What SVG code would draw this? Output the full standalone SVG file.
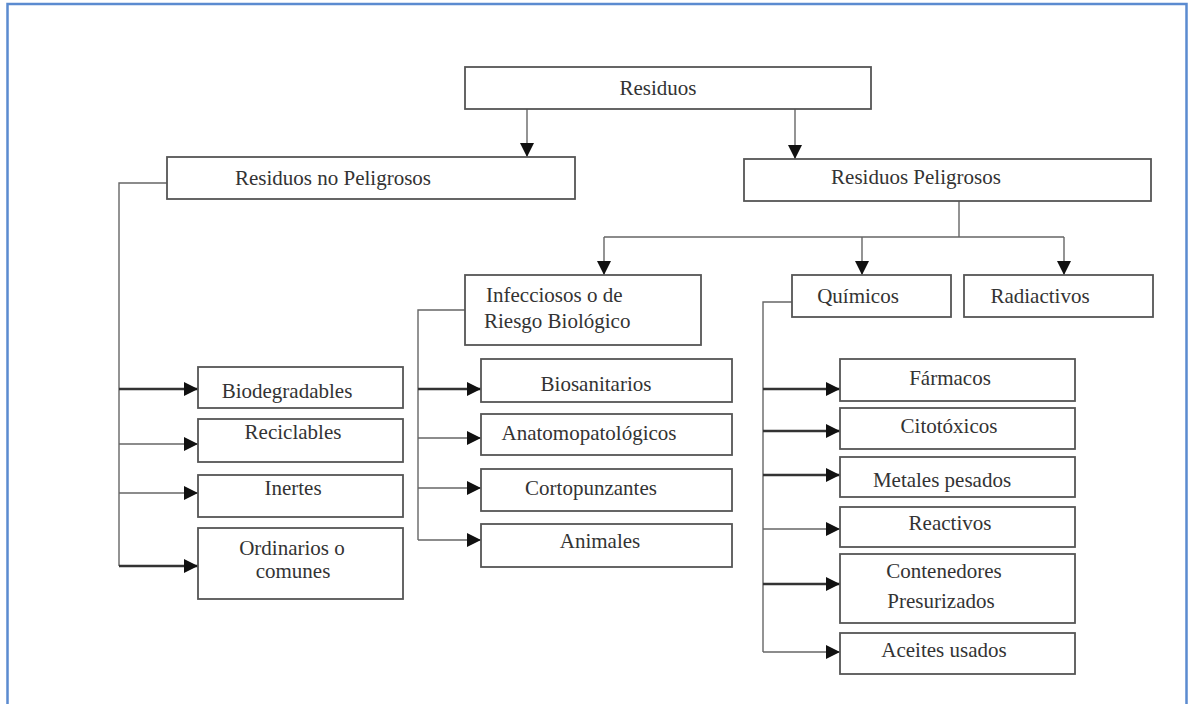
<svg xmlns="http://www.w3.org/2000/svg" width="1189" height="704" viewBox="0 0 1189 704">
<style>
.box{fill:#fff;stroke:#555;stroke-width:1.8}
text{font-family:'Liberation Serif','Times New Roman',Tinos,'DejaVu Serif',serif;font-size:21px;fill:#333}
.c{text-anchor:middle}
.thin{fill:none;stroke:#666;stroke-width:1.4}
.thick{fill:none;stroke:#333;stroke-width:2.4}
</style>
<defs>
<marker id="ah" markerUnits="userSpaceOnUse" markerWidth="15" markerHeight="14" refX="14" refY="7" orient="auto">
<path d="M0,0 L14,7 L0,14 z" fill="#111"/>
</marker>
</defs>
<rect x="0" y="0" width="1189" height="704" fill="#fff"/>
<path d="M7.5,710 V4 H1186.5 V710" fill="none" stroke="#5b8bd0" stroke-width="2.5"/>

<g id="connectors">
<path class="thin" d="M527,109 V157" marker-end="url(#ah)"/>
<path class="thin" d="M795,109 V159" marker-end="url(#ah)"/>
<path class="thin" d="M959,201 V237 M604,237 H1064"/>
<path class="thin" d="M604,237 V275" marker-end="url(#ah)"/>
<path class="thin" d="M862,237 V275" marker-end="url(#ah)"/>
<path class="thin" d="M1064,237 V275" marker-end="url(#ah)"/>
<path class="thin" d="M167,183 H119 V566"/>
<path class="thick" d="M119,389 H198" marker-end="url(#ah)"/>
<path class="thin" d="M119,444 H198" marker-end="url(#ah)"/>
<path class="thin" d="M119,493 H198" marker-end="url(#ah)"/>
<path class="thick" d="M119,566 H198" marker-end="url(#ah)"/>
<path class="thin" d="M465,310 H418 V540"/>
<path class="thick" d="M418,389 H481" marker-end="url(#ah)"/>
<path class="thin" d="M418,438 H481" marker-end="url(#ah)"/>
<path class="thin" d="M418,488 H481" marker-end="url(#ah)"/>
<path class="thin" d="M418,540 H481" marker-end="url(#ah)"/>
<path class="thin" d="M792,302 H763 V652"/>
<path class="thick" d="M763,389 H840" marker-end="url(#ah)"/>
<path class="thick" d="M763,431 H840" marker-end="url(#ah)"/>
<path class="thick" d="M763,475 H840" marker-end="url(#ah)"/>
<path class="thin" d="M763,529 H840" marker-end="url(#ah)"/>
<path class="thick" d="M763,584 H840" marker-end="url(#ah)"/>
<path class="thin" d="M763,652 H840" marker-end="url(#ah)"/>
</g>

<g id="residuos"><rect class="box" x="465" y="67" width="406" height="42"/><text class="c" x="658" y="95">Residuos</text></g>
<g id="no-peligrosos"><rect class="box" x="167" y="157" width="408" height="42"/><text class="c" x="333" y="185">Residuos no Peligrosos</text></g>
<g id="peligrosos"><rect class="box" x="744" y="159" width="407" height="42"/><text class="c" x="916" y="184">Residuos Peligrosos</text></g>
<g id="infecciosos"><rect class="box" x="465" y="275" width="236" height="70"/><text x="486" y="302">Infecciosos o de</text><text x="484" y="328">Riesgo Biológico</text></g>
<g id="quimicos"><rect class="box" x="792" y="275" width="159" height="42"/><text class="c" x="858" y="303">Químicos</text></g>
<g id="radiactivos"><rect class="box" x="964" y="275" width="189" height="42"/><text class="c" x="1040" y="303">Radiactivos</text></g>

<g id="biodegradables"><rect class="box" x="198" y="367" width="205" height="41"/><text class="c" x="287" y="398">Biodegradables</text></g>
<g id="reciclables"><rect class="box" x="198" y="419" width="205" height="43"/><text class="c" x="293" y="439">Reciclables</text></g>
<g id="inertes"><rect class="box" x="198" y="475" width="205" height="42"/><text class="c" x="293" y="495">Inertes</text></g>
<g id="ordinarios"><rect class="box" x="198" y="528" width="205" height="71"/><text class="c" x="292" y="555">Ordinarios o</text><text class="c" x="293" y="578">comunes</text></g>

<g id="biosanitarios"><rect class="box" x="481" y="359" width="251" height="43"/><text class="c" x="596" y="391">Biosanitarios</text></g>
<g id="anatomopatologicos"><rect class="box" x="481" y="414" width="251" height="41"/><text class="c" x="589" y="440">Anatomopatológicos</text></g>
<g id="cortopunzantes"><rect class="box" x="481" y="469" width="251" height="42"/><text class="c" x="591" y="495">Cortopunzantes</text></g>
<g id="animales"><rect class="box" x="481" y="524" width="251" height="43"/><text class="c" x="600" y="548">Animales</text></g>

<g id="farmacos"><rect class="box" x="840" y="359" width="235" height="42"/><text class="c" x="950" y="385">Fármacos</text></g>
<g id="citotoxicos"><rect class="box" x="840" y="408" width="235" height="41"/><text class="c" x="949" y="433">Citotóxicos</text></g>
<g id="metales"><rect class="box" x="840" y="457" width="235" height="40"/><text class="c" x="942" y="487">Metales pesados</text></g>
<g id="reactivos"><rect class="box" x="840" y="507" width="235" height="40"/><text class="c" x="950" y="530">Reactivos</text></g>
<g id="contenedores"><rect class="box" x="840" y="554" width="235" height="69"/><text class="c" x="944" y="578">Contenedores</text><text class="c" x="941" y="608">Presurizados</text></g>
<g id="aceites"><rect class="box" x="840" y="633" width="235" height="41"/><text class="c" x="944" y="657">Aceites usados</text></g>
</svg>
